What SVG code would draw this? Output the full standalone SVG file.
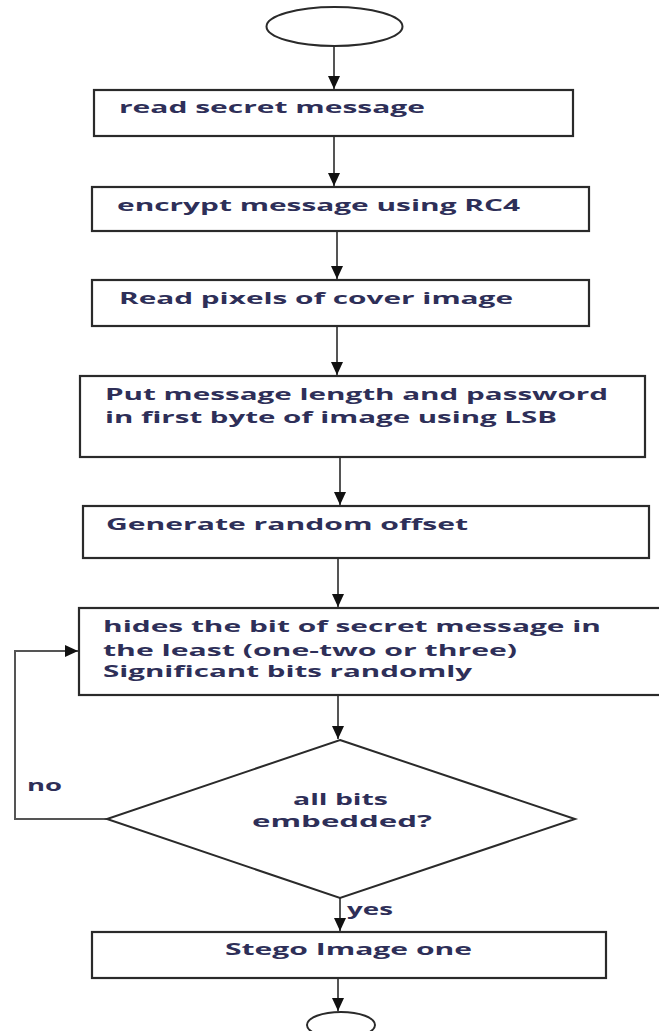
<svg xmlns="http://www.w3.org/2000/svg" width="659" height="1031" viewBox="0 0 659 1031">
<style>
.box{fill:#fff;stroke:#2a2a2a;stroke-width:2.2}
.term{fill:#fff;stroke:#2a2a2a;stroke-width:2}
.t{font-family:"Open Sans","Liberation Sans",sans-serif;font-weight:700;font-size:15.5px;fill:#2e2f58}
.c{fill:none;stroke:#555;stroke-width:2}
</style>
<defs>
<marker id="ah" markerUnits="userSpaceOnUse" markerWidth="14" markerHeight="12" viewBox="0 0 14 12" refX="13" refY="6" orient="auto">
<path d="M0,0 L13,6 L0,12 z" fill="#111"/>
</marker>
</defs>
<rect width="659" height="1031" fill="#fff"/>
<g id="connectors">
<line class="c" x1="334" y1="46" x2="334" y2="89" marker-end="url(#ah)"/>
<line class="c" x1="334" y1="137" x2="334" y2="186" marker-end="url(#ah)"/>
<line class="c" x1="337" y1="232" x2="337" y2="279" marker-end="url(#ah)"/>
<line class="c" x1="337" y1="326" x2="337" y2="375" marker-end="url(#ah)"/>
<line class="c" x1="340" y1="458" x2="340" y2="505" marker-end="url(#ah)"/>
<line class="c" x1="338" y1="558" x2="338" y2="607" marker-end="url(#ah)"/>
<line class="c" x1="338" y1="696" x2="338" y2="739" marker-end="url(#ah)"/>
<polyline class="c" points="107,819 15,819 15,651 78,651" marker-end="url(#ah)"/>
<line class="c" x1="340" y1="898" x2="340" y2="931" marker-end="url(#ah)"/>
<line class="c" x1="338" y1="979" x2="338" y2="1011" marker-end="url(#ah)"/>
<text class="t" x="27" y="791" textLength="35" lengthAdjust="spacingAndGlyphs">no</text>
<text class="t" x="347" y="915" textLength="46" lengthAdjust="spacingAndGlyphs">yes</text>
</g>
<g id="start"><ellipse class="term" cx="334.5" cy="26.5" rx="68" ry="19.5"/></g>
<g id="read-secret">
<rect class="box" x="94" y="90" width="479" height="46"/>
<text class="t" x="119" y="113" textLength="306" lengthAdjust="spacingAndGlyphs">read secret message</text>
</g>
<g id="encrypt">
<rect class="box" x="92" y="187" width="497" height="44"/>
<text class="t" x="117" y="211" textLength="403" lengthAdjust="spacingAndGlyphs">encrypt message using RC4</text>
</g>
<g id="read-pixels">
<rect class="box" x="92" y="280" width="497" height="46"/>
<text class="t" x="119" y="304" textLength="394" lengthAdjust="spacingAndGlyphs">Read pixels of cover image</text>
</g>
<g id="put-length">
<rect class="box" x="80" y="376" width="565" height="81"/>
<text class="t" x="105" y="400" textLength="503" lengthAdjust="spacingAndGlyphs">Put message length and password</text>
<text class="t" x="105" y="423" textLength="452" lengthAdjust="spacingAndGlyphs">in first byte of image using LSB</text>
</g>
<g id="random-offset">
<rect class="box" x="83" y="506" width="566" height="52"/>
<text class="t" x="106" y="530" textLength="362" lengthAdjust="spacingAndGlyphs">Generate random offset</text>
</g>
<g id="hide-bits">
<rect class="box" x="79" y="608" width="590" height="87"/>
<text class="t" x="103" y="632" textLength="498" lengthAdjust="spacingAndGlyphs">hides the bit of secret message in</text>
<text class="t" x="103" y="656" textLength="414" lengthAdjust="spacingAndGlyphs">the least (one-two or three)</text>
<text class="t" x="103" y="677" textLength="369" lengthAdjust="spacingAndGlyphs">Significant bits randomly</text>
</g>
<g id="decision">
<polygon class="term" points="340,740 575,819 340,898 107,819"/>
<text class="t" x="293" y="805" textLength="95" lengthAdjust="spacingAndGlyphs">all bits</text>
<text class="t" x="252" y="827" textLength="180" lengthAdjust="spacingAndGlyphs">embedded?</text>
</g>
<g id="stego">
<rect class="box" x="92" y="932" width="514" height="46"/>
<text class="t" x="225" y="955" textLength="247" lengthAdjust="spacingAndGlyphs">Stego Image one</text>
</g>
<g id="end"><ellipse class="term" cx="341" cy="1025" rx="34" ry="13"/></g>
</svg>
